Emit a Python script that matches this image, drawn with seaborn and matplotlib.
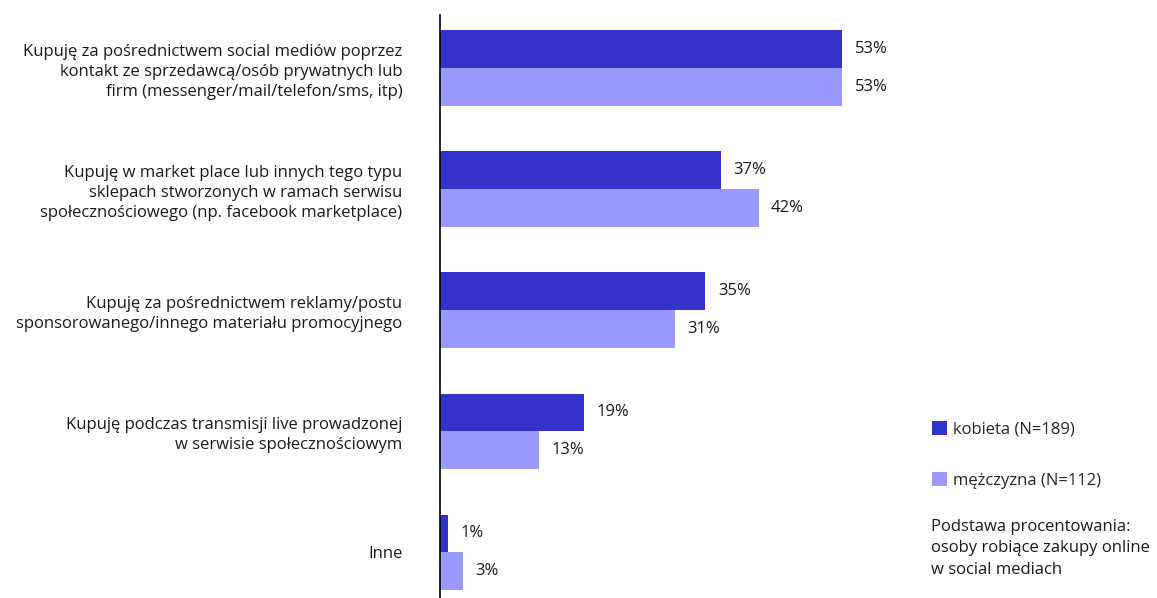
import numpy as np
import matplotlib
matplotlib.use("Agg")
import matplotlib.pyplot as plt
import seaborn as sns
import pandas as pd
from matplotlib.patches import Patch

sns.set_style("white")
plt.rcParams['font.family'] = ['Open Sans', 'DejaVu Sans']

# dane
categories = [
    "Kupuję za pośrednictwem social mediów poprzez\nkontakt ze sprzedawcą/osób prywatnych lub\nfirm (messenger/mail/telefon/sms, itp)",
    "Kupuję w market place lub innych tego typu\nsklepach stworzonych w ramach serwisu\nspołecznościowego (np. facebook marketplace)",
    "Kupuję za pośrednictwem reklamy/postu\nsponsorowanego/innego materiału promocyjnego",
    "Kupuję podczas transmisji live prowadzonej\nw serwisie społecznościowym",
    "Inne",
]
groups = ["kobieta (N=189)", "mężczyzna (N=112)"]
kobieta = [53, 37, 35, 19, 1]
mezczyzna = [53, 42, 31, 13, 3]
colors = ["#3333CC", "#9999FF"]

df = pd.DataFrame({
    "kategoria": categories * 2,
    "plec": [groups[0]] * len(categories) + [groups[1]] * len(categories),
    "wartosc": kobieta + mezczyzna,
})

fig = plt.figure(figsize=(11.57, 5.98), dpi=100)
ax = fig.add_axes([440 / 1157, 0, 460 / 1157, 1 - 15 / 598])

sns.barplot(data=df, y="kategoria", x="wartosc", hue="plec", order=categories,
            hue_order=groups, palette=colors, orient="h", width=0.62,
            errorbar=None, saturation=1, linewidth=0, ax=ax, legend=False)

for cont in ax.containers:
    ax.bar_label(cont, labels=[f"{v:.0f}%" for v in cont.datavalues],
                 padding=9, fontsize=12, color="#1a1a1a")

ax.set_xlim(0, 460 / 7.585)
ax.set_ylim(4.38, -0.438)
ax.set_xlabel("")
ax.set_ylabel("")
ax.set_xticks([])
ax.tick_params(axis="y", length=0, pad=27, labelsize=12, labelcolor="#1a1a1a")
for lab in ax.get_yticklabels():
    lab.set_linespacing(1.36)
for s in ["top", "right", "bottom"]:
    ax.spines[s].set_visible(False)
ax.spines["left"].set_color("black")
ax.spines["left"].set_linewidth(1.2)

handles = [Patch(facecolor=c, edgecolor="none") for c in colors]
fig.legend(handles, groups, loc="upper left", bbox_to_anchor=(925 / 1157, 1 - 414 / 598),
           frameon=False, fontsize=12, handlelength=0.9, handleheight=0.9,
           handletextpad=0.4, labelspacing=2.08, borderaxespad=0)

fig.text(931 / 1157, 1 - 519 / 598,
         "Podstawa procentowania:\nosoby robiące zakupy online\nw social mediach",
         ha="left", va="top", fontsize=12, color="#1a1a1a", linespacing=1.45)

plt.savefig("out.png", dpi=100)
plt.close()
